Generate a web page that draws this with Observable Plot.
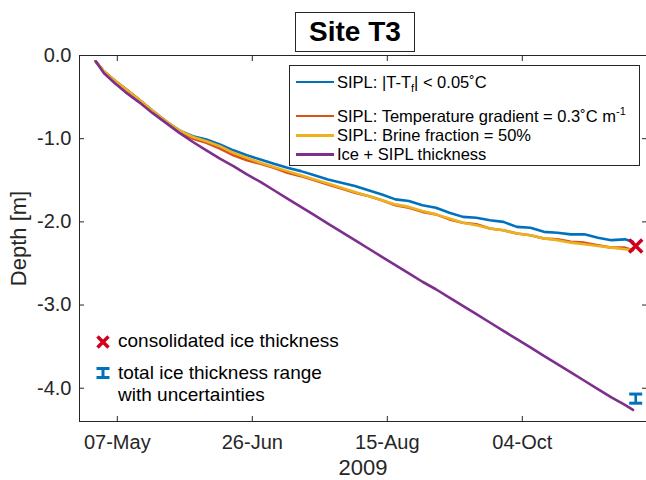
<!DOCTYPE html>
<html>
<head>
<meta charset="utf-8">
<script src="https://cdn.jsdelivr.net/npm/d3@7"></script>
<script src="https://cdn.jsdelivr.net/npm/@observablehq/plot@0.6"></script>
<style>
  body { margin: 0; background: #fff; }
  #wrap { position: relative; width: 646px; height: 480px; overflow: hidden; background: #fff;
          font-family: "Liberation Sans", Arial, Helvetica, sans-serif; color: #262626; }
  #chart { position: absolute; left: 0; top: 0; }
  #title { position: absolute; left: 295px; top: 12px; width: 120px; height: 40px; box-sizing: border-box;
           border: 1px solid #262626; background: #fff; color: #000; font-weight: bold; font-size: 28px;
           text-align: center; line-height: 38px; }
  #legend { position: absolute; left: 289px; top: 65px; width: 351px; height: 101px; box-sizing: border-box;
            border: 1px solid #262626; background: #fff; color: #000; font-size: 16.5px; }
  .row { position: absolute; left: 0; height: 20px; width: 345px; }
  .sw { position: absolute; left: 6px; top: 9px; width: 38px; height: 2.5px; }
  .lt { position: absolute; left: 47px; top: 0; line-height: 20px; white-space: nowrap; }
  .lt sub { font-size: 11px; vertical-align: -4px; line-height: 0; }
  .lt sup { font-size: 11px; vertical-align: 7px; line-height: 0; }
  .note { position: absolute; color: #000; font-size: 19px; white-space: nowrap; line-height: 22px; }
  .icon { position: absolute; }
</style>
</head>
<body>
<div id="wrap">
  <div id="chart"></div>
  <div id="title">Site T3</div>
  <div id="legend"></div>
  <svg class="icon" style="left:95px;top:334px" width="16" height="16" id="iconX"></svg>
  <div class="note" style="left:118px;top:330px">consolidated ice thickness</div>
  <svg class="icon" style="left:95px;top:365px" width="16" height="16" id="iconE"></svg>
  <div class="note" style="left:118px;top:362px">total ice thickness range<br>with uncertainties</div>
</div>
<script>
// ---- data ----
const dates = ["2009-04-29","2009-05-02","2009-05-06","2009-05-10","2009-05-15","2009-05-20","2009-05-25","2009-05-30",
  "2009-06-04","2009-06-09","2009-06-14","2009-06-19","2009-06-24","2009-06-29","2009-07-04","2009-07-09","2009-07-14",
  "2009-07-19","2009-07-24","2009-07-29","2009-08-03","2009-08-08","2009-08-13","2009-08-18","2009-08-23","2009-08-28",
  "2009-09-02","2009-09-07","2009-09-12","2009-09-17","2009-09-22","2009-09-27","2009-10-02","2009-10-07","2009-10-12",
  "2009-10-17","2009-10-22","2009-10-27","2009-11-01","2009-11-06","2009-11-11","2009-11-14"];
const siplTemp = [-0.07,-0.19,-0.30,-0.40,-0.53,-0.66,-0.79,-0.90,-0.97,-1.01,-1.07,-1.14,-1.20,-1.25,-1.30,-1.35,-1.39,
  -1.44,-1.49,-1.53,-1.57,-1.62,-1.67,-1.73,-1.75,-1.80,-1.83,-1.89,-1.94,-1.95,-1.98,-2.00,-2.06,-2.07,-2.12,-2.13,-2.15,
  -2.15,-2.19,-2.22,-2.21,-2.24];
const siplGradient = [-0.07,-0.19,-0.30,-0.40,-0.53,-0.67,-0.79,-0.92,-1.00,-1.05,-1.12,-1.20,-1.26,-1.30,-1.35,-1.41,-1.45,
  -1.50,-1.55,-1.60,-1.65,-1.69,-1.74,-1.80,-1.83,-1.88,-1.91,-1.97,-2.01,-2.03,-2.08,-2.10,-2.14,-2.16,-2.20,-2.21,-2.24,
  -2.25,-2.28,-2.31,-2.31,-2.34];
const siplBrine = [-0.07,-0.19,-0.30,-0.40,-0.53,-0.66,-0.79,-0.90,-0.98,-1.03,-1.09,-1.17,-1.23,-1.29,-1.34,-1.39,-1.44,
  -1.49,-1.54,-1.59,-1.64,-1.69,-1.74,-1.79,-1.82,-1.87,-1.91,-1.96,-2.01,-2.04,-2.08,-2.10,-2.14,-2.16,-2.20,-2.22,-2.25,
  -2.27,-2.29,-2.31,-2.33,-2.34];
const iceSipl = [-0.07,-0.21,-0.33,-0.44,-0.56,-0.69,-0.81,-0.93,-1.04,-1.14,-1.24,-1.33,-1.43,-1.52,-1.62,-1.72,-1.82,
  -1.92,-2.02,-2.12,-2.22,-2.32,-2.42,-2.52,-2.62,-2.72,-2.81,-2.91,-3.01,-3.11,-3.21,-3.31,-3.41,-3.51,-3.61,-3.71,-3.81,
  -3.91,-4.01,-4.11,-4.20,-4.26];
const consolidated = [{date: "2009-11-15", depth: -2.29}];
const totalRange = [{date: "2009-11-15", lo: -4.18, hi: -4.07}];
const seriesColors = ["#0072BD", "#D95319", "#EDB120", "#7E2F8E"];
const xTicks = ["2009-05-07", "2009-06-26", "2009-08-15", "2009-10-04"];
const yTicks = [0, -1, -2, -3, -4];
const xDomain = ["2009-04-23", "2009-11-19"];
const yDomain = [-4.4, 0];

// ---- build ----
const parse = d3.utcParse("%Y-%m-%d");
const allSeries = [siplTemp, siplGradient, siplBrine, iceSipl];
const lineData = allSeries.map((vals, s) => dates.map((d, i) => ({date: parse(d), depth: vals[i], s})));
const xt = xTicks.map(parse);
const hcap = {draw(ctx, size) { const w = Math.sqrt(size / Math.PI); ctx.moveTo(-w, 0); ctx.lineTo(w, 0); }};
const fontFamily = '"Liberation Sans", Arial, Helvetica, sans-serif';

const chart = Plot.plot({
  width: 646, height: 480,
  marginLeft: 79, marginRight: 0, marginTop: 55, marginBottom: 59,
  style: {fontFamily, fontSize: "20px", color: "#262626", background: "transparent", overflow: "visible"},
  x: {type: "utc", domain: xDomain.map(parse)},
  y: {domain: yDomain},
  marks: [
    Plot.frame({stroke: "#262626", strokeWidth: 1}),
    ...lineData.map((data, s) => Plot.line(data, {x: "date", y: "depth", stroke: seriesColors[s], strokeWidth: 2.6, curve: "linear"})),
    Plot.ruleX(totalRange, {x: d => parse(d.date), y1: "lo", y2: "hi", stroke: "#0072BD", strokeWidth: 2.6}),
    Plot.dot(totalRange, {x: d => parse(d.date), y: "lo", symbol: hcap, r: 6.5, stroke: "#0072BD", strokeWidth: 3}),
    Plot.dot(totalRange, {x: d => parse(d.date), y: "hi", symbol: hcap, r: 6.5, stroke: "#0072BD", strokeWidth: 3}),
    Plot.dot(consolidated, {x: d => parse(d.date), y: "depth", symbol: "times", r: 6, stroke: "#D2001E", strokeWidth: 3.5}),
    Plot.axisX({ticks: xt, tickFormat: d3.utcFormat("%d-%b"), tickSize: -5, tickPadding: 18, fontSize: 20, label: null, stroke: "#262626"}),
    Plot.axisX({ticks: [], label: "2009", labelArrow: "none", labelAnchor: "center", labelOffset: 53, fontSize: 22, tickSize: 0}),
    Plot.axisX({anchor: "top", ticks: xt, tickFormat: () => "", tickSize: -5, label: null}),
    Plot.axisY({ticks: yTicks, tickFormat: d => d.toFixed(1), tickSize: -5, tickPadding: 13, fontSize: 20, label: null}),
    Plot.axisY({ticks: [], label: "Depth [m]", labelArrow: "none", labelAnchor: "center", labelOffset: 69, fontSize: 22, tickSize: 0}),
    Plot.axisY({anchor: "right", ticks: yTicks, tickFormat: () => "", tickSize: -5, label: null})
  ]
});
document.getElementById("chart").appendChild(chart);

// ---- legend (top right) ----
const legendRows = [
  {html: 'SIPL: |T-T<sub>f</sub>| &lt; 0.05˚C', c: 0, cy: 16.7},
  {html: 'SIPL: Temperature gradient = 0.3˚C m<sup>-1</sup>', c: 1, cy: 50.7},
  {html: 'SIPL: Brine fraction = 50%', c: 2, cy: 70},
  {html: 'Ice + SIPL thickness', c: 3, cy: 89.3}
];
const leg = document.getElementById("legend");
legendRows.forEach(r => {
  const row = document.createElement("div");
  row.className = "row";
  row.style.top = (r.cy - 10 - 1) + "px";
  row.innerHTML = `<div class="sw" style="background:${seriesColors[r.c]}"></div><div class="lt">${r.html}</div>`;
  leg.appendChild(row);
});

// ---- marker icons for the in-plot notes ----
document.getElementById("iconX").innerHTML =
  '<path d="M2.5,2.5L13.5,13.5M13.5,2.5L2.5,13.5" stroke="#D2001E" stroke-width="3.5"/>';
document.getElementById("iconE").innerHTML =
  '<path d="M1.5,3.5H14.5M1.5,12.5H14.5M8,3.5V12.5" stroke="#0072BD" stroke-width="3" fill="none"/>';
</script>
</body>
</html>
